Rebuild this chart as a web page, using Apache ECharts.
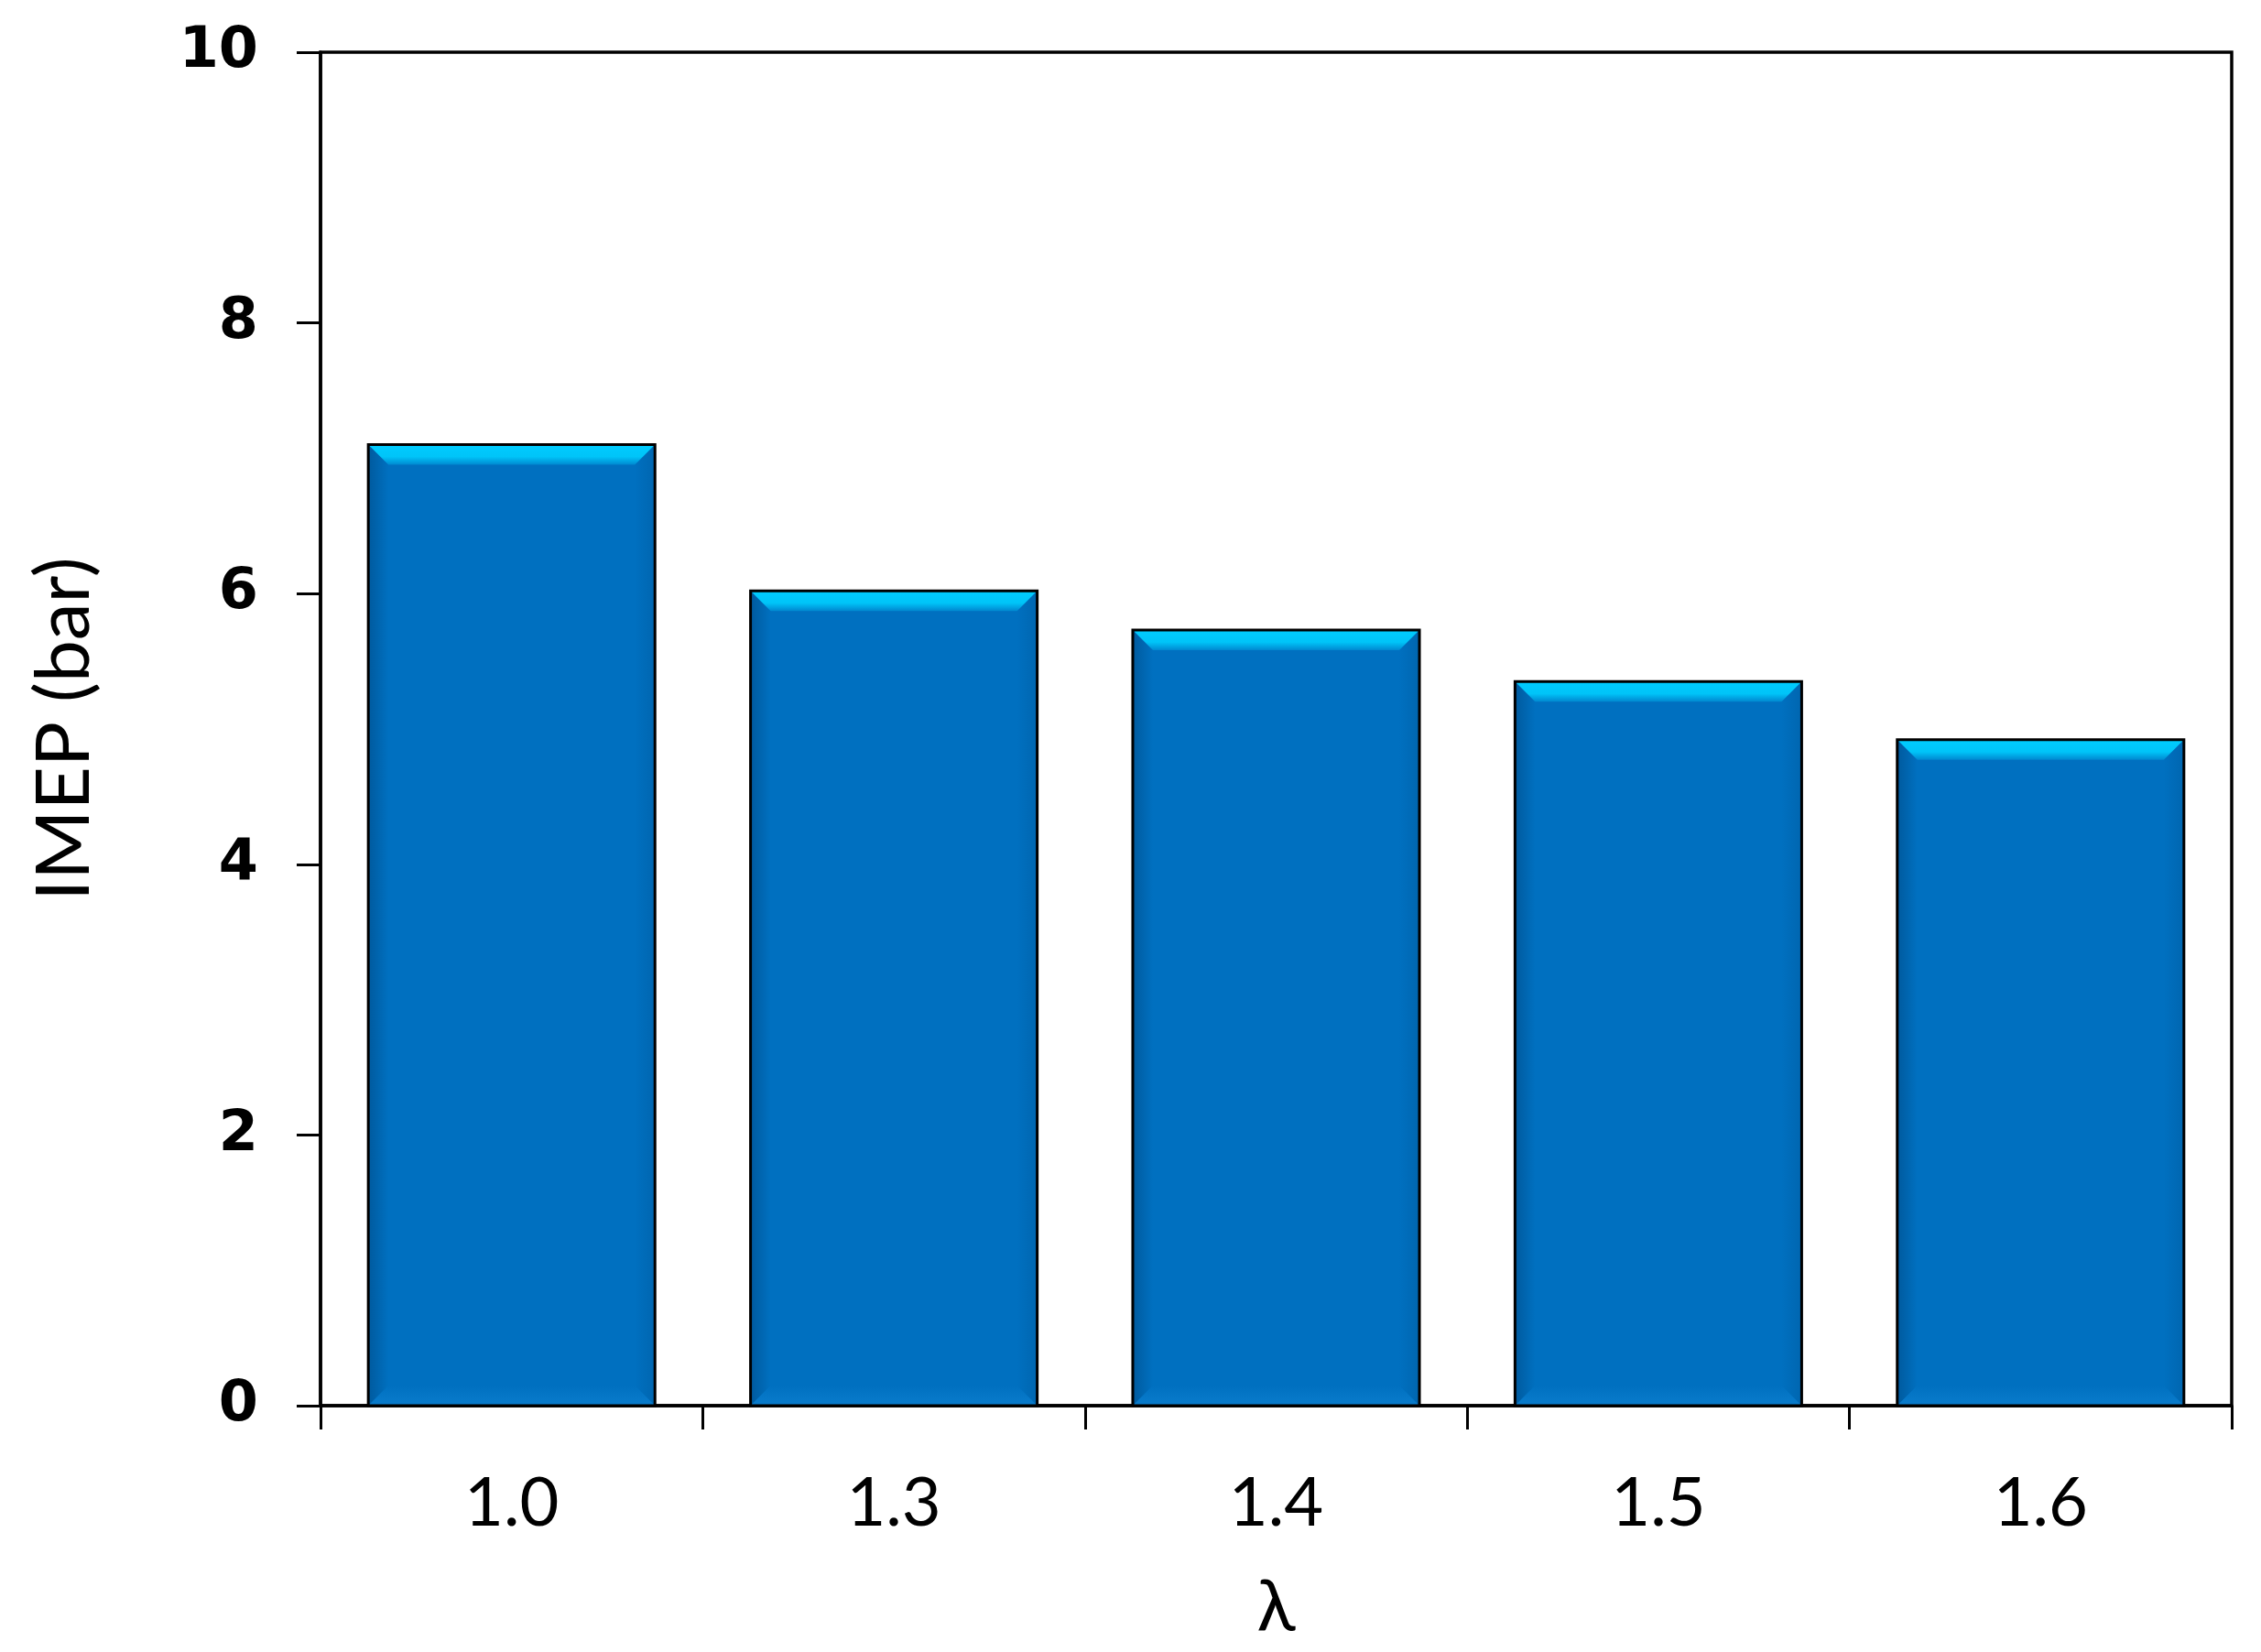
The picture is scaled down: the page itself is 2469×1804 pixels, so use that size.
<!DOCTYPE html>
<html>
<head>
<meta charset="utf-8">
<script src="https://cdn.jsdelivr.net/npm/echarts@6/dist/echarts.min.js"></script>
<style>
html,body{margin:0;padding:0;background:#fff;}
#chart{width:2469px;height:1804px;}
</style>
</head>
<body>
<div id="chart"></div>
<script>
const categories = ['1.0', '1.3', '1.4', '1.5', '1.6'];
const imepValues = [7.10, 6.02, 5.73, 5.35, 4.92];
const yTicks = [0, 2, 4, 6, 8, 10];

const chart = echarts.init(document.getElementById('chart'), null, {renderer: 'canvas'});

function renderBar(params, api) {
  const idx = api.value(0);
  const val = api.value(1);
  const top = api.coord([idx, val]);
  const base = api.coord([idx, 0]);
  const bw = api.size([1, 0])[0] * 0.75;
  const x0 = top[0] - bw / 2, x1 = top[0] + bw / 2;
  const y0 = top[1], y1 = base[1];
  const b = 22;
  return {
    type: 'group',
    children: [
      {type: 'rect', shape: {x: x0, y: y0, width: bw, height: y1 - y0},
       style: {fill: '#0070C0'}},
      {type: 'polygon', shape: {points: [[x0, y0], [x0 + b, y0 + b], [x0 + b, y1 - b], [x0, y1]]},
       style: {fill: new echarts.graphic.LinearGradient(0, 0, 1, 0, [
         {offset: 0, color: '#005a9e'}, {offset: 1, color: '#0070C0'}])}},
      {type: 'polygon', shape: {points: [[x1, y0], [x1 - b, y0 + b], [x1 - b, y1 - b], [x1, y1]]},
       style: {fill: new echarts.graphic.LinearGradient(1, 0, 0, 0, [
         {offset: 0, color: '#0066b0'}, {offset: 1, color: '#0070C0'}])}},
      {type: 'polygon', shape: {points: [[x0, y1], [x0 + b, y1 - b], [x1 - b, y1 - b], [x1, y1]]},
       style: {fill: new echarts.graphic.LinearGradient(0, 1, 0, 0, [
         {offset: 0, color: '#0a7ccc'}, {offset: 1, color: '#0070C0'}])}},
      {type: 'polygon', shape: {points: [[x0, y0], [x1, y0], [x1 - b, y0 + b], [x0 + b, y0 + b]]},
       style: {fill: new echarts.graphic.LinearGradient(0, 0, 0, 1, [
         {offset: 0, color: '#00CCFF'}, {offset: 0.6, color: '#00C4F8'}, {offset: 1, color: '#0088D0'}])}},
      {type: 'rect', shape: {x: x0, y: y0, width: bw, height: y1 - y0},
       style: {fill: 'none', stroke: '#000', lineWidth: 3}}
    ]
  };
}

const option = {
  backgroundColor: '#fff',
  animation: false,
  grid: {left: 350, right: 32, top: 57, bottom: 269, show: true,
         containLabel: false, outerBoundsMode: 'none',
         borderColor: '#000', borderWidth: 3.5, backgroundColor: 'transparent'},
  xAxis: {
    type: 'category',
    data: categories,
    boundaryGap: true,
    name: 'λ',
    nameLocation: 'middle',
    nameGap: 182,
    nameTextStyle: {fontFamily: 'Lato', fontSize: 78, color: '#000'},
    axisLine: {lineStyle: {color: '#000', width: 3.5}},
    axisTick: {show: true, length: 26, lineStyle: {color: '#000', width: 3}},
    axisLabel: {fontFamily: 'Lato', fontSize: 74, color: '#000', margin: 70},
    splitLine: {show: false}
  },
  yAxis: {
    type: 'value',
    min: yTicks[0],
    max: yTicks[yTicks.length - 1],
    interval: 2,
    name: 'IMEP (bar)',
    nameLocation: 'middle',
    nameGap: 238,
    nameTextStyle: {fontFamily: 'Lato', fontSize: 82, color: '#000'},
    axisLine: {show: true, lineStyle: {color: '#000', width: 3.5}},
    axisTick: {show: true, length: 26, lineStyle: {color: '#000', width: 3}},
    axisLabel: {fontFamily: 'DejaVu Sans', fontWeight: 'bold', fontSize: 62, color: '#000', margin: 68},
    splitLine: {show: false}
  },
  series: [{
    type: 'custom',
    renderItem: renderBar,
    encode: {x: 0, y: 1},
    data: categories.map((c, i) => [i, imepValues[i]])
  }]
};
chart.setOption(option);
</script>
</body>
</html>
